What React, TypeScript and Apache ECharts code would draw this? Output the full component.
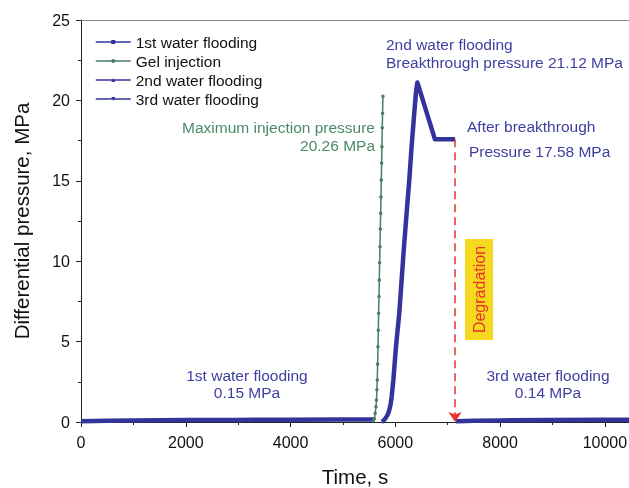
import React, { useEffect, useRef } from "react";
import * as echarts from "echarts";

const FONT = "'Liberation Sans', Arial, Helvetica, sans-serif";
const BLUE = "#33339b";
const BLUE_TEXT = "#3e3ea0";
const GREEN = "#447f60";
const GREEN_TEXT = "#4b8a68";
const RED = "#e8322a";
const FS = 15.5;

const seriesNames = ["1st water flooding", "Gel injection", "2nd water flooding", "3rd water flooding"];

const firstFlooding: [number, number][] = [
  [0, 0.05], [500, 0.08], [1000, 0.1], [2000, 0.12], [3000, 0.13], [4000, 0.14], [5000, 0.15], [5590, 0.15],
];

const gelInjection: [number, number][] = [
  [5580, 0.08], [5600, 0.2], [5615, 0.54], [5630, 0.95], [5640, 1.37], [5648, 2.0], [5655, 2.61],
  [5662, 3.6], [5668, 4.68], [5675, 5.7], [5681, 6.76], [5688, 7.8], [5694, 8.83], [5700, 9.9],
  [5707, 10.9], [5713, 12.0], [5720, 12.98], [5726, 14.0], [5732, 15.05], [5738, 16.1],
  [5744, 17.12], [5750, 18.3], [5756, 19.2], [5763, 20.26],
];

const secondFlooding: [number, number][] = [
  [5740, 0.02], [5772, 0.08], [5805, 0.2], [5835, 0.35], [5865, 0.55], [5885, 0.75], [5910, 1.1],
  [5930, 1.58], [5962, 2.61], [6012, 4.68], [6075, 6.76], [6120, 8.83], [6165, 10.9], [6215, 12.98],
  [6266, 15.05], [6310, 17.12], [6361, 19.2], [6392, 20.44], [6420, 21.12], [6756, 17.58], [7140, 17.58],
];

const thirdFlooding: [number, number][] = [
  [7160, 0.05], [7500, 0.08], [8000, 0.1], [9000, 0.12], [10000, 0.14], [10460, 0.14],
];

const xTicks = { min: 0, max: 10460, interval: 2000 };
const yTicks = { min: 0, max: 25, interval: 5 };

export default function App() {
  const ref = useRef<HTMLDivElement>(null);
  useEffect(() => {
    if (!ref.current) return;
    const chart = echarts.init(ref.current, undefined, { renderer: "svg" });
    const axisCommon = {
      axisLine: { show: true, lineStyle: { color: "#222", width: 1 } },
      axisTick: { show: true, inside: false, length: 5, lineStyle: { color: "#222" } },
      minorTick: { show: true, splitNumber: 2, length: 3, lineStyle: { color: "#222" } },
      splitLine: { show: false },
      axisLabel: { fontSize: 16, color: "#111", fontFamily: FONT, formatter: (v: number) => String(v) },
    };
    const txt = (x: number, y: number, text: string, color: string, align: string) => ({
      type: "text",
      x,
      y,
      silent: true,
      style: { text, fill: color, fontSize: FS, fontFamily: FONT, align, verticalAlign: "middle" },
    });
    chart.setOption({
      animation: false,
      textStyle: { fontFamily: FONT },
      grid: { left: 81, top: 20, right: 0, bottom: 66, containLabel: false, outerBoundsMode: "none" },
      legend: {
        data: seriesNames,
        orient: "vertical",
        left: 90,
        top: 29,
        itemWidth: 35,
        itemHeight: 5,
        itemGap: 3,
        textStyle: { fontSize: FS, color: "#111", fontFamily: FONT },
        lineStyle: { width: 1.5 },
      },
      xAxis: [
        {
          type: "value",
          ...xTicks,
          ...axisCommon,
          axisLabel: { ...axisCommon.axisLabel, margin: 12 },
          name: "Time, s",
          nameLocation: "middle",
          nameGap: 44,
          nameTextStyle: { fontSize: 20.5, color: "#111", fontFamily: FONT },
        },
        {
          type: "value",
          position: "top",
          ...xTicks,
          axisLine: { show: true, lineStyle: { color: "#888", width: 1 } },
          axisTick: { show: false },
          axisLabel: { show: false },
          splitLine: { show: false },
        },
      ],
      yAxis: {
        type: "value",
        ...yTicks,
        ...axisCommon,
        axisLabel: { ...axisCommon.axisLabel, margin: 11 },
        name: "Differential pressure, MPa",
        nameLocation: "middle",
        nameGap: 49,
        nameTextStyle: { fontSize: 20.5, color: "#111", fontFamily: FONT },
      },
      series: [
        {
          name: seriesNames[0],
          type: "line",
          data: firstFlooding,
          color: BLUE,
          symbol: "rect",
          symbolSize: 4,
          showSymbol: false,
          clip: false,
          lineStyle: { width: 4.5, color: BLUE },
        },
        {
          name: seriesNames[1],
          type: "line",
          data: gelInjection,
          color: GREEN,
          symbol: "circle",
          symbolSize: 3.5,
          showSymbol: true,
          clip: false,
          lineStyle: { width: 1.5, color: GREEN },
          itemStyle: { color: GREEN },
        },
        {
          name: seriesNames[2],
          type: "line",
          data: secondFlooding,
          color: BLUE,
          symbol: "triangle",
          symbolSize: 4,
          showSymbol: false,
          clip: false,
          lineStyle: { width: 4.5, color: BLUE, join: "round" },
          markLine: {
            silent: true,
            symbol: ["none", "arrow"],
            symbolSize: 10,
            label: { show: false },
            lineStyle: { color: RED, type: [8, 5], width: 1.5 },
            data: [[{ coord: [7140, 17.58] }, { coord: [7140, 0] }]],
          },
        },
        {
          name: seriesNames[3],
          type: "line",
          data: thirdFlooding,
          color: BLUE,
          symbol: "triangle",
          symbolRotate: 180,
          symbolSize: 4,
          showSymbol: false,
          clip: false,
          lineStyle: { width: 4.5, color: BLUE },
        },
      ],
      graphic: [
        txt(386, 44, "2nd water flooding", BLUE_TEXT, "left"),
        txt(386, 62, "Breakthrough pressure 21.12 MPa", BLUE_TEXT, "left"),
        txt(375, 127, "Maximum injection pressure", GREEN_TEXT, "right"),
        txt(375, 145, "20.26 MPa", GREEN_TEXT, "right"),
        txt(467, 126, "After breakthrough", BLUE_TEXT, "left"),
        txt(469, 151, "Pressure 17.58 MPa", BLUE_TEXT, "left"),
        txt(247, 375, "1st water flooding", BLUE_TEXT, "center"),
        txt(247, 392, "0.15 MPa", BLUE_TEXT, "center"),
        txt(548, 375, "3rd water flooding", BLUE_TEXT, "center"),
        txt(548, 392, "0.14 MPa", BLUE_TEXT, "center"),
        {
          type: "rect",
          silent: true,
          shape: { x: 465, y: 239, width: 28, height: 101 },
          style: { fill: "#f6d81e" },
        },
        {
          type: "text",
          silent: true,
          x: 479,
          y: 289.5,
          rotation: Math.PI / 2,
          style: {
            text: "Degradation",
            fill: RED,
            fontSize: 16,
            fontFamily: FONT,
            align: "center",
            verticalAlign: "middle",
          },
        },
      ],
    });
    return () => chart.dispose();
  }, []);
  return <div ref={ref} style={{ position: "fixed", left: 0, top: 0, width: 629, height: 488 }} />;
}
